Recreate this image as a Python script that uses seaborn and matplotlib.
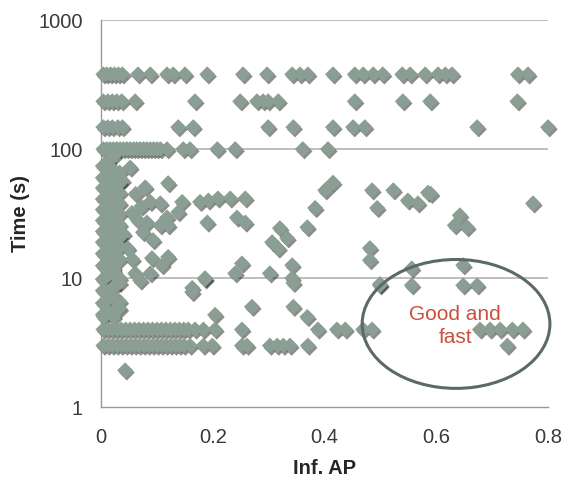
import matplotlib
matplotlib.use("Agg")
import matplotlib.pyplot as plt
import matplotlib.patheffects as pe
from matplotlib.patches import Ellipse
from matplotlib.ticker import FixedLocator, FixedFormatter, NullLocator
import seaborn as sns
import pandas as pd

# ---- data: runs at fixed time levels (Inf. AP values) ----
row_380_x = [0.004, 0.010, 0.017, 0.024, 0.031, 0.038, 0.066, 0.088, 0.118, 0.129, 0.150,
             0.190, 0.254, 0.297, 0.342, 0.356, 0.370, 0.415, 0.454, 0.469, 0.487, 0.504,
             0.539, 0.553, 0.580, 0.603, 0.616, 0.628, 0.746, 0.764]
row_235_x = [0.004, 0.012, 0.020, 0.028, 0.037, 0.061, 0.168, 0.249, 0.279, 0.290, 0.299,
             0.317, 0.454, 0.540, 0.589, 0.745]
row_148_x = [0.004, 0.012, 0.020, 0.030, 0.038, 0.138, 0.165, 0.299, 0.344, 0.415, 0.451,
             0.472, 0.673, 0.800]
row_100_x = [0.004, 0.010, 0.016, 0.022, 0.028, 0.034, 0.040, 0.046, 0.052, 0.058, 0.064,
             0.070, 0.076, 0.082, 0.088, 0.094, 0.100, 0.106, 0.118, 0.147, 0.159, 0.208,
             0.240, 0.361, 0.406]
row_4_x = [0.004, 0.012, 0.020, 0.028, 0.036, 0.044, 0.052, 0.060, 0.068, 0.076, 0.084,
           0.092, 0.100, 0.108, 0.116, 0.124, 0.132, 0.140, 0.148, 0.156, 0.168, 0.183,
           0.204, 0.252, 0.388, 0.422, 0.437, 0.469, 0.485, 0.678, 0.696, 0.714, 0.736, 0.755]
row_3_x = [0.004, 0.012, 0.020, 0.028, 0.036, 0.044, 0.052, 0.060, 0.068, 0.076, 0.084,
           0.092, 0.100, 0.108, 0.116, 0.124, 0.132, 0.140, 0.148, 0.159, 0.183, 0.199,
           0.252, 0.261, 0.302, 0.315, 0.326, 0.338, 0.370, 0.727]

# ---- data: scattered runs (Inf. AP, time in s) ----
scatter_x = [0.011, 0.021, 0.052, 0.038, 0.006, 0.079, 0.120, 0.415, 0.401, 0.485, 0.523,
             0.585, 0.590, 0.773, 0.258, 0.231, 0.209, 0.192, 0.177, 0.145, 0.106, 0.088,
             0.549, 0.567, 0.494, 0.383, 0.138, 0.118, 0.066, 0.082, 0.106, 0.120, 0.190,
             0.243, 0.258, 0.369, 0.320, 0.333, 0.306, 0.317, 0.642, 0.633, 0.655, 0.481,
             0.481, 0.093, 0.075, 0.091, 0.120, 0.109, 0.088, 0.061, 0.252, 0.240, 0.302,
             0.342, 0.186, 0.556, 0.648, 0.342, 0.499, 0.556, 0.648, 0.673, 0.163, 0.070,
             0.186, 0.344, 0.499, 0.163, 0.270, 0.344, 0.369, 0.204, 0.030, 0.005, 0.043,
             0.055, 0.048, 0.062, 0.072, 0.040, 0.056]
scatter_y = [78, 70, 72, 57, 60, 50.6, 54.5, 55, 48, 48, 48,
             46, 45, 38, 41.5, 41.5, 41.5, 40, 39, 39, 38, 39,
             40, 38, 35, 35, 32.5, 29.5, 28, 27, 25.7, 25.7, 27,
             29.5, 27, 24.8, 24.4, 20.4, 19, 17, 30.7, 25.7, 24.8, 17.1,
             13.8, 19.7, 22.7, 14.3, 14.6, 12.6, 10.9, 10.9, 13, 10.9, 10.9,
             12.6, 10, 11.9, 12.6, 10, 8.8, 8.8, 8.8, 8.8, 8.4, 9.6,
             9.8, 9.2, 9.0, 7.8, 6.0, 6.0, 5.0, 5.2, 6.0, 5.0, 1.93,
             32, 17, 45, 36, 22, 14]

# ---- data: dense strip of runs at very low Inf. AP ----
strip_x = [0.003, 0.012, 0.022, 0.033, 0.003, 0.012, 0.022, 0.033, 0.003, 0.012, 0.022,
           0.033, 0.003, 0.012, 0.022, 0.033, 0.003, 0.012, 0.022, 0.033, 0.003, 0.012,
           0.022, 0.033, 0.003, 0.012, 0.022, 0.033, 0.003, 0.012, 0.022, 0.033, 0.003,
           0.012, 0.022, 0.033, 0.003, 0.012, 0.022, 0.033, 0.003, 0.012, 0.022, 0.033,
           0.003, 0.012, 0.022, 0.033, 0.003, 0.012, 0.022, 0.033, 0.003, 0.012, 0.022]
strip_y = [5.2, 5.5, 5.0, 5.8, 6.4, 6.8, 7.2, 6.6, 8.0, 7.6, 8.5, 9.2, 9.8, 10.5, 11.5, 10.0,
           12.5, 13.5, 12.0, 14.0, 15.5, 16.5, 15.0, 17.5, 19.0, 20.5, 18.5, 21.0, 23.0,
           24.5, 22.5, 26.0, 28.0, 30.0, 27.5, 31.5, 34.0, 36.0, 33.0, 38.0, 41.0, 43.0,
           40.0, 46.0, 50.0, 52.0, 48.0, 55.0, 60.0, 63.0, 58.0, 66.0, 74.0, 80.0, 88.0]

time_levels = [380, 235, 148, 100, 4, 3]
row_xs = [row_380_x, row_235_x, row_148_x, row_100_x, row_4_x, row_3_x]

y_ticks = [1, 10, 100, 1000]
y_tick_labels = ["1", "10", "100", "1000"]
x_ticks = [0, 0.2, 0.4, 0.6, 0.8]
x_tick_labels = ["0", "0.2", "0.4", "0.6", "0.8"]

# ---- build the table ----
xs, ys = [], []
for t, rx in zip(time_levels, row_xs):
    xs += rx
    ys += [t] * len(rx)
xs += scatter_x + strip_x
ys += scatter_y + strip_y
df = pd.DataFrame({"Inf. AP": xs, "Time (s)": ys})

sns.set_theme(style="white")
plt.rcParams["font.family"] = ["Liberation Sans", "DejaVu Sans"]

fig = plt.figure(figsize=(5.68, 4.79), dpi=100)
ax = fig.add_axes([0.178, 0.150, 0.787, 0.808])

ax.set_yscale("log")
ax.set_xlim(0, 0.8)
ax.set_ylim(1, 1000)

for yv in [10, 100, 1000]:
    ax.axhline(yv, color="#b3b3b3", lw=1.2, zorder=0)

sns.scatterplot(data=df, x="Inf. AP", y="Time (s)", marker="D", s=66,
                color="#8a9e94", edgecolor="none", ax=ax, zorder=3, clip_on=False,
                legend=False)
coll = ax.collections[-1]
coll.set_path_effects([pe.SimplePatchShadow(offset=(1.2, -1.6), shadow_rgbFace="#1a1a1a",
                                            alpha=0.5), pe.Normal()])

ax.yaxis.set_major_locator(FixedLocator(y_ticks))
ax.yaxis.set_major_formatter(FixedFormatter(y_tick_labels))
ax.yaxis.set_minor_locator(NullLocator())
ax.set_xticks(x_ticks)
ax.set_xticklabels(x_tick_labels)
ax.tick_params(axis="both", length=0, labelsize=14.5, colors="#3a3a3a")
ax.tick_params(axis="x", pad=15)
ax.tick_params(axis="y", pad=13)

for side in ["top", "right"]:
    ax.spines[side].set_visible(False)
for side in ["left", "bottom"]:
    ax.spines[side].set_color("#999999")
    ax.spines[side].set_linewidth(1.0)

ax.set_xlabel("Inf. AP", fontsize=14.5, fontweight="bold", color="#262626", labelpad=9)
ax.set_ylabel("Time (s)", fontsize=14.5, fontweight="bold", color="#262626", labelpad=6)

ell = Ellipse((0.794, 0.215), 0.42, 0.333, transform=ax.transAxes, fill=False,
              edgecolor="#5b6b63", lw=2.2, clip_on=False, zorder=4)
ax.add_patch(ell)
ax.text(0.792, 0.21, "Good and\nfast", transform=ax.transAxes, ha="center", va="center",
        fontsize=15, color="#c9503e", zorder=5, linespacing=1.3)

fig.savefig("out.png", dpi=100)
